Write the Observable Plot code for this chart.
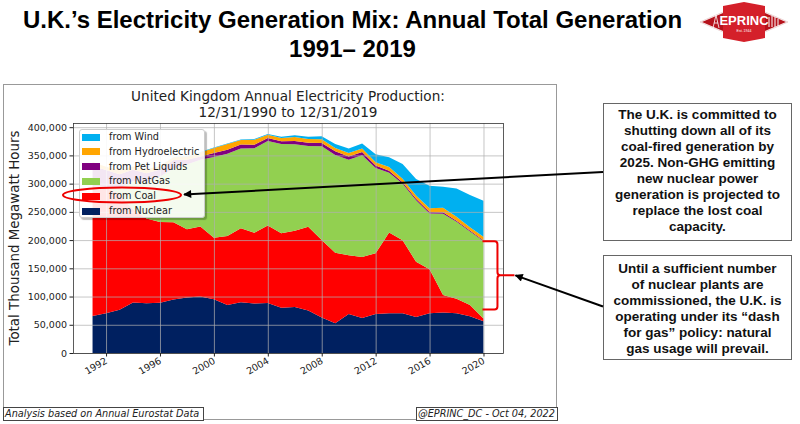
<!DOCTYPE html>
<html>
<head>
<meta charset="utf-8">
<script src="https://cdn.jsdelivr.net/npm/d3@7"></script>
<script src="https://cdn.jsdelivr.net/npm/@observablehq/plot@0.6"></script>
<style>
html,body{margin:0;padding:0;background:#fff;}
#page{position:relative;width:800px;height:424px;overflow:hidden;font-family:"Liberation Sans",Arial,sans-serif;}
#title{position:absolute;left:0;top:5px;width:705px;text-align:center;font-weight:bold;font-size:24px;line-height:29px;color:#000;white-space:nowrap;}
#fig{position:absolute;left:3px;top:84px;width:554px;height:336px;border:1px solid #999;box-sizing:border-box;}
#chart{position:absolute;left:0;top:84px;}
#ctitle{position:absolute;left:88px;top:89px;width:400px;text-align:center;font-family:"DejaVu Sans";font-size:13.6px;line-height:15.5px;color:#222;white-space:nowrap;}
#ylab{position:absolute;left:-115px;top:229px;width:260px;text-align:center;font-family:"DejaVu Sans";font-size:13.4px;line-height:18px;color:#222;transform:rotate(-90deg);white-space:nowrap;}
#legend{position:absolute;left:79px;top:129px;width:126px;height:89px;background:rgba(255,255,255,0.9);border:1px solid #ccc;border-radius:3px;box-sizing:border-box;box-shadow:2px 2px 1px rgba(0,0,0,0.25);font-family:"DejaVu Sans";font-size:9.7px;color:#222;}
.lrow{position:absolute;left:0;height:12px;width:124px;}
.lsw{position:absolute;left:2px;top:2.5px;width:18px;height:7px;}
.ltx{position:absolute;left:29px;top:0;line-height:12px;white-space:nowrap;}
.foot{position:absolute;top:407px;height:14px;border:1px solid #444;box-sizing:border-box;font-family:"DejaVu Sans";font-style:italic;font-size:9.7px;line-height:12px;color:#222;white-space:nowrap;padding-left:1px;background:#fff;}
.box{position:absolute;left:603px;width:189px;border:1px solid #666;box-sizing:border-box;text-align:center;font-weight:bold;font-size:13.5px;line-height:16px;color:#111;background:#fff;white-space:nowrap;}
#ann{position:absolute;left:0;top:0;pointer-events:none;}
#logo{position:absolute;left:699px;top:1px;}
</style>
</head>
<body>
<div id="page">
  <div id="title">U.K.’s Electricity Generation Mix: Annual Total Generation<br>1991– 2019</div>
  <svg id="logo" width="90" height="42" viewBox="0 0 90 42">
    <polygon points="1,21 45,2 89,21 45,40" fill="#fff" stroke="#e7c9c9" stroke-width="0.8"/>
    <polygon points="3,21 24,12 24,30" fill="#b5121b"/>
    <polygon points="87,21 66,12 66,30" fill="#b5121b"/>
    <polygon points="24,5 66,5 66,37 24,37" fill="#d4202a"/>
    <polygon points="24,5 45,1 66,5" fill="#d4202a"/>
    <polygon points="24,37 45,41 66,37" fill="#d4202a"/>
    <path d="M14,27 L17,14 L20,27 M15,22 H19" stroke="#fff" stroke-width="0.8" fill="none"/>
    <path d="M70,26 V16 M73,26 V15 M76,26 V16 M79,25 V18" stroke="#fff" stroke-width="1" fill="none"/>
    <text x="45" y="24" text-anchor="middle" font-family="Liberation Sans Narrow, Liberation Sans" font-weight="bold" font-size="13" fill="#fff">EPRINC</text>
    <text x="45" y="31" text-anchor="middle" font-family="Liberation Sans" font-size="3.5" fill="#fff">Est. 1944</text>
  </svg>
  <div id="fig"></div>
  <div id="chart"></div>
  <div id="ctitle">United Kingdom Annual Electricity Production:<br>12/31/1990 to 12/31/2019</div>
  <div id="ylab">Total Thousand Megawatt Hours</div>
  <div id="legend"></div>
  <div class="foot" style="left:3px;width:201px;">Analysis based on Annual Eurostat Data</div>
  <div class="foot" style="left:416px;width:142px;">@EPRINC_DC - Oct 04, 2022</div>
  <div class="box" style="top:103px;height:138px;padding-top:3px;">The U.K. is committed to<br>shutting down all of its<br>coal-fired generation by<br>2025. Non-GHG emitting<br>new nuclear power<br>generation is projected to<br>replace the lost coal<br>capacity.</div>
  <div class="box" style="top:255px;height:105px;padding-top:5px;">Until a sufficient number<br>of nuclear plants are<br>commissioned, the U.K. is<br>operating under its “dash<br>for gas” policy: natural<br>gas usage will prevail.</div>
  <svg id="ann" width="800" height="424"></svg>
</div>
<script>
// Year-end dates of each observation (12/31 of the year)
const years = [1990,1991,1992,1993,1994,1995,1996,1997,1998,1999,2000,2001,2002,2003,2004,2005,2006,2007,2008,2009,2010,2011,2012,2013,2014,2015,2016,2017,2018,2019];

// Thousand MWh
const nuclear    = [65700,70500,76800,89400,88300,89000,94700,98100,100100,95100,85100,90100,87800,88700,80000,81600,75500,63000,52500,69100,62100,68900,70400,70600,63700,70300,71700,70300,65100,56200];
const coal       = [230000,222000,205000,165000,150000,143000,137000,121000,124000,109000,122000,131000,125000,137000,132000,135000,148000,137000,125000,104000,108000,108000,143000,129000,98000,78000,31000,26000,20000,5000];
const natGas     = [600,1500,10000,50000,65000,80000,95000,115000,118000,143000,146000,141000,150000,150000,158000,153000,143000,166000,173000,169000,180000,151000,106000,100000,109000,99000,144000,136000,130000,137000];
const petLiquids = [35000,30000,25000,20000,15000,13000,15000,8000,6000,7000,7000,7000,6000,5000,5000,6000,6000,6000,7000,6000,6000,4000,3500,3000,2500,2500,2500,2000,1800,1500];
const hydro      = [7000,6000,7000,6000,7000,6000,5000,6000,7000,9000,10000,8000,9000,6000,6000,7000,6500,6500,5500,6000,6000,6000,6500,6000,6000,6500,8000,7000,6000,6000];
const wind       = [0,0,0,0,300,400,500,700,900,1000,1000,1000,1300,1300,2000,3000,4200,5300,7000,8000,9000,14000,17500,26000,29000,40000,37200,50000,57000,64000];

const seriesNames = ["from Nuclear","from Coal","from NatGas","from Pet Liquids","from Hydroelectric","from Wind"];
const seriesColors = ["#002060","#FF0000","#92D050","#800080","#FFA500","#00B0F0"];
const seriesValues = [nuclear, coal, natGas, petLiquids, hydro, wind];

const xTickYears = [1992,1996,2000,2004,2008,2012,2016,2020];
const yTicks = [0,50000,100000,150000,200000,250000,300000,350000,400000];

const dates = years.map(y => new Date(Date.UTC(y, 11, 31)));
const table = seriesNames.flatMap((s, i) => seriesValues[i].map((v, j) => ({date: dates[j], series: s, value: v})));
const xTicks = xTickYears.map(y => new Date(Date.UTC(y, 0, 1)));

const t0 = +dates[0], t1 = +dates[dates.length - 1], span = t1 - t0;
const totals = dates.map((d, j) => seriesValues.reduce((a, s) => a + s[j], 0));
const yMax = d3.max(totals) * 1.05;

const plot = Plot.plot({
  width: 558,
  height: 337,
  marginLeft: 73,
  marginRight: 55,
  marginTop: 39,
  marginBottom: 68,
  style: {fontFamily: "DejaVu Sans", fontSize: "9.5px", color: "#222", background: "none", overflow: "visible"},
  x: {type: "utc", domain: [new Date(t0 - 0.05 * span), new Date(t1 + 0.05 * span)]},
  y: {domain: [0, yMax]},
  color: {domain: seriesNames, range: seriesColors},
  marks: [
    Plot.areaY(table, {x: "date", y: "value", z: "series", fill: "series", order: seriesNames, curve: "linear"}),
    Plot.gridX(xTicks, {stroke: "#b0b0b0", strokeOpacity: 0.9, strokeWidth: 0.8}),
    Plot.gridY(yTicks, {stroke: "#b0b0b0", strokeOpacity: 0.9, strokeWidth: 0.8}),
    Plot.frame({stroke: "#333", strokeWidth: 0.8}),
    Plot.axisX(xTicks, {tickFormat: d3.utcFormat("%Y"), tickRotate: -30, tickSize: 3.5, tickPadding: 3, label: null, fill: "#222"}),
    Plot.axisY(yTicks, {tickFormat: d3.format(","), tickSize: 3.5, tickPadding: 3, label: null, fill: "#222"})
  ]
});
document.getElementById("chart").appendChild(plot);

// Legend (reverse stacking order, like matplotlib)
const legend = document.getElementById("legend");
const legendOrder = seriesNames.map((s, i) => i).reverse();
legendOrder.forEach((i, k) => {
  const row = document.createElement("div");
  row.className = "lrow";
  row.style.top = (1 + k * 14.8) + "px";
  row.innerHTML = `<div class="lsw" style="background:${seriesColors[i]}"></div><div class="ltx">${seriesNames[i]}</div>`;
  legend.appendChild(row);
});

// Annotations
const xs = plot.scale("x"), ys = plot.scale("y");
const top0 = 84, left0 = 0;
const px = d => left0 + xs.apply(d);
const py = v => top0 + ys.apply(v);
const ns = "http://www.w3.org/2000/svg";
const ann = document.getElementById("ann");
ann.innerHTML = `<defs><marker id="ah" viewBox="0 0 10 10" refX="9" refY="5" markerWidth="11" markerHeight="8" markerUnits="userSpaceOnUse" orient="auto"><path d="M0,0 L10,5 L0,10 z" fill="#000"/></marker></defs>`;

function add(tag, attrs) {
  const el = document.createElementNS(ns, tag);
  for (const k in attrs) el.setAttribute(k, attrs[k]);
  ann.appendChild(el);
  return el;
}
// ellipse around "from Coal" legend entry
add("ellipse", {cx: 122, cy: 195, rx: 59, ry: 7.5, fill: "none", stroke: "#e00", "stroke-width": 2});
add("line", {x1: 603, y1: 172, x2: 184, y2: 194.5, stroke: "#000", "stroke-width": 2, "marker-end": "url(#ah)"});

// red brace at last date spanning the gas band
const bx0 = px(dates[dates.length - 1]) - 1;
const bx1 = bx0 + 15, btip = bx0 + 32;
const yT = py(198000), yB = py(77000), yM = (yT + yB) / 2;
add("path", {d: `M${bx0},${yT} H${bx1 - 3} Q${bx1},${yT} ${bx1},${yT + 3} V${yM - 3} Q${bx1},${yM} ${bx1 + 3},${yM} H${btip} M${bx1 + 3},${yM} Q${bx1},${yM} ${bx1},${yM + 3} V${yB - 3} Q${bx1},${yB} ${bx1 - 3},${yB} H${bx0}`, fill: "none", stroke: "#e00", "stroke-width": 2});
add("line", {x1: 603, y1: 306.5, x2: btip + 1, y2: yM, stroke: "#000", "stroke-width": 2, "marker-end": "url(#ah)"});
</script>
</body>
</html>
